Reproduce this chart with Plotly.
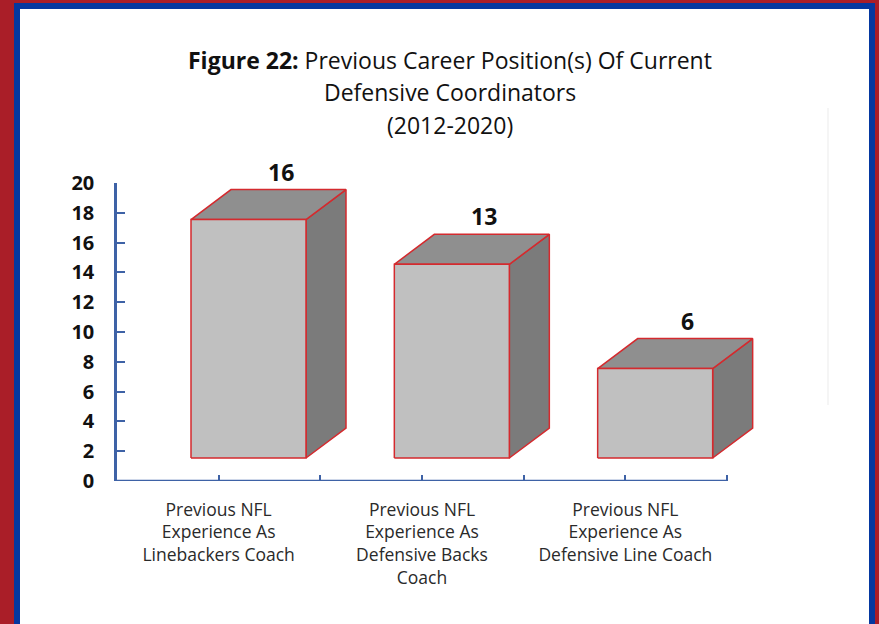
import plotly.graph_objects as go

# ---------------- data ----------------
categories = [
    "Previous NFL<br>Experience As<br>Linebackers Coach",
    "Previous NFL<br>Experience As<br>Defensive Backs<br>Coach",
    "Previous NFL<br>Experience As<br>Defensive Line Coach",
]
values = [16, 13, 6]
y_tick_vals = list(range(0, 21, 2))
title_lines = [
    "<b>Figure 22:</b> Previous Career Position(s) Of Current",
    "Defensive Coordinators",
    "(2012-2020)",
]

# ---------------- layout geometry (pixels) ----------------
W, H = 879, 624
PX0 = 117          # x of y-axis
PY0, PY1 = 183, 481  # top / bottom of plot area
CAT_PX = 610 / 3     # pixels per category
X_RANGE = [0, 3.3]
PLOT_W = CAT_PX * X_RANGE[1]
UY = (PY1 - PY0) / 20.0   # pixels per y unit

FONT = "Open Sans, Noto Sans, DejaVu Sans, sans-serif"
AXIS_BLUE = "#3E62A6"
EDGE_RED = "#D42A2E"


def paper_x(p):
    return (p - PX0) / PLOT_W


def paper_y(p):
    return (PY1 - p) / (PY1 - PY0)


# 3D bar geometry
face_off = 74 / CAT_PX
face_w = 115 / CAT_PX
depth_dx = 40 / CAT_PX
depth_dy = 30 / UY
base = 23 / UY

fig = go.Figure()

for i, v in enumerate(values):
    x0 = i + face_off
    x1 = x0 + face_w
    y0 = base
    y1 = base + v
    side = ([x1, x1 + depth_dx, x1 + depth_dx, x1, x1],
            [y0, y0 + depth_dy, y1 + depth_dy, y1, y0])
    top = ([x0, x1, x1 + depth_dx, x0 + depth_dx, x0],
           [y1, y1, y1 + depth_dy, y1 + depth_dy, y1])
    front = ([x0, x1, x1, x0, x0], [y0, y0, y1, y1, y0])
    for (xs, ys), col in ((side, "#7B7B7B"), (top, "#8F8F8F"), (front, "#C0C0C0")):
        fig.add_trace(go.Scatter(
            x=xs, y=ys, mode="lines", fill="toself", fillcolor=col,
            line=dict(color=EDGE_RED, width=1.5), hoverinfo="skip",
            showlegend=False))
    fig.add_annotation(
        x=i + 164 / CAT_PX, y=y1, xref="x", yref="y", text=f"<b>{v}</b>",
        showarrow=False, yshift=48, yanchor="middle",
        font=dict(family=FONT, size=23, color="#111111"))

# title lines
for k, (t, yp) in enumerate(zip(title_lines, [60, 92, 125])):
    fig.add_annotation(
        x=paper_x(449.5), y=paper_y(yp), xref="paper", yref="paper",
        text=t, showarrow=False, xanchor="center", yanchor="middle",
        font=dict(family=FONT, size=23, color="#111111"))

shapes = [
    # blue frame and white interior over red background
    dict(type="rect", xref="paper", yref="paper", layer="below",
         x0=paper_x(14), x1=paper_x(875), y0=paper_y(640), y1=paper_y(3),
         fillcolor="#0538A0", line=dict(width=0)),
    dict(type="rect", xref="paper", yref="paper", layer="below",
         x0=paper_x(20), x1=paper_x(869), y0=paper_y(640), y1=paper_y(9),
         fillcolor="#FFFFFF", line=dict(width=0)),
    # faint plot-area edge
    dict(type="line", xref="paper", yref="paper", layer="below",
         x0=paper_x(828), x1=paper_x(828), y0=paper_y(405), y1=paper_y(108),
         line=dict(color="#EBEBEB", width=1)),
    # x axis line (category part only)
    dict(type="line", xref="x", yref="y", x0=0, x1=3, y0=0, y1=0,
         line=dict(color=AXIS_BLUE, width=2.5)),
]

fig.update_layout(
    width=W, height=H,
    margin=dict(l=PX0, r=W - PX0 - PLOT_W, t=PY0, b=H - PY1, pad=0),
    paper_bgcolor="#AA1E28",
    plot_bgcolor="rgba(0,0,0,0)",
    shapes=shapes,
    showlegend=False,
    xaxis=dict(
        range=X_RANGE, showgrid=False, zeroline=False, showline=False,
        tickmode="array", tickvals=[0.5, 1.5, 2.5], ticktext=categories,
        ticks="inside", ticklen=6, tickwidth=2, tickcolor=AXIS_BLUE,
        minor=dict(tickmode="array", tickvals=[0, 1, 2, 3], ticks="inside",
                   ticklen=6, tickwidth=2, tickcolor=AXIS_BLUE),
        tickfont=dict(family=FONT, size=17.5, color="#2A2A2A"),
        ticklabelstandoff=16, fixedrange=True,
    ),
    yaxis=dict(
        range=[0, 20], showgrid=False, zeroline=False, showline=True,
        linecolor=AXIS_BLUE, linewidth=2.5,
        tickmode="array", tickvals=y_tick_vals,
        ticks="inside", ticklen=8, tickwidth=2, tickcolor=AXIS_BLUE,
        tickfont=dict(family=FONT, size=20, color="#111111", weight="bold"),
        ticklabelstandoff=16, fixedrange=True,
    ),
)

fig.write_html(
    "out.html",
    config={"displayModeBar": False},
    post_script="document.body.style.margin='0';document.body.style.padding='0';"
                "document.body.style.overflow='hidden';",
)
